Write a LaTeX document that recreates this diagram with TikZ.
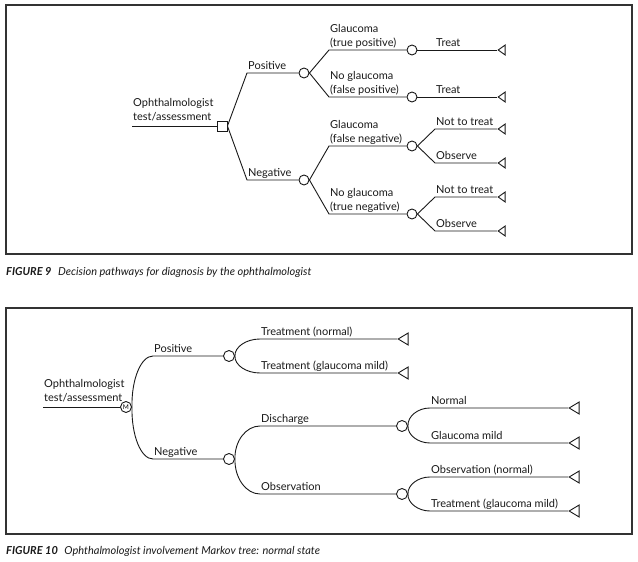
\documentclass[tikz,border=0pt]{standalone}
\usepackage{fontspec}
\setmainfont{Lato}
\usetikzlibrary{shapes.geometric}

\begin{document}
\begin{tikzpicture}[x=1pt, y=-1pt,
        linha/.style={draw=black!90, line width=0.9pt},
        moldura/.style={draw=black!80, line width=1.1pt},
        decisao/.style={draw=black!90, line width=0.9pt, rectangle, minimum size=10pt, inner sep=0pt, fill=white},
        acaso/.style={draw=black!90, line width=0.9pt, circle, minimum size=10pt, inner sep=0pt, fill=white},
        markov/.style={acaso, minimum size=11pt, font=\fontsize{6.5}{7}\selectfont},
        fim/.style={draw=black!90, line width=0.9pt, isosceles triangle, shape border rotate=180, isosceles triangle stretches, minimum width=10pt, minimum height=7pt, inner sep=0pt, anchor=apex},
        fimb/.style={fim, minimum width=12pt, minimum height=10pt},
        rotulo/.style={anchor=south west, align=left, inner xsep=1pt, inner ysep=3pt, text depth=0pt, text=black!90, font=\fontsize{11}{14}\selectfont},
        legenda/.style={anchor=base west, inner sep=0pt, text=black!90, font=\fontsize{11}{13}\selectfont\itshape}]
        \useasboundingbox (0,0) rectangle (638,562);

        % Molduras
        \draw[moldura] (6,5) rectangle (632,254);
        \draw[moldura] (6,308) rectangle (632,534);

        % Figura 9: nos
        \coordinate (r1) at (132,126);
        \node[decisao] (D1) at (222,126) {};
        \node[acaso] (c1) at (304,73) {};
        \node[acaso] (c2) at (304,180) {};
        \node[acaso] (c3) at (412,50) {};
        \node[acaso] (c4) at (412,97) {};
        \node[acaso] (c5) at (412,146) {};
        \node[acaso] (c6) at (412,214) {};
        \node[fim] (t1) at (497,50) {};
        \node[fim] (t2) at (497,97) {};
        \node[fim] (t3) at (497,129) {};
        \node[fim] (t4) at (497,163) {};
        \node[fim] (t5) at (497,197) {};
        \node[fim] (t6) at (497,231) {};

        % Figura 9: cantos dos ramos
        \coordinate (p1) at (247,73);
        \coordinate (p2) at (247,180);
        \coordinate (p3) at (329,50);
        \coordinate (p4) at (329,97);
        \coordinate (p5) at (329,146);
        \coordinate (p6) at (329,214);
        \coordinate (p7) at (435,129);
        \coordinate (p8) at (435,163);
        \coordinate (p9) at (435,197);
        \coordinate (p10) at (435,231);

        % Figura 9: ramos
        \draw[linha] (r1) -- (D1.west);
        \draw[linha] (D1.east) -- (p1) -- (c1.west);
        \draw[linha] (D1.east) -- (p2) -- (c2.west);
        \draw[linha] (c1.east) -- (p3) -- (c3.west);
        \draw[linha] (c1.east) -- (p4) -- (c4.west);
        \draw[linha] (c2.east) -- (p5) -- (c5.west);
        \draw[linha] (c2.east) -- (p6) -- (c6.west);
        \draw[linha] (c3.east) -- (t1.apex);
        \draw[linha] (c4.east) -- (t2.apex);
        \draw[linha] (c5.east) -- (p7) -- (t3.apex);
        \draw[linha] (c5.east) -- (p8) -- (t4.apex);
        \draw[linha] (c6.east) -- (p9) -- (t5.apex);
        \draw[linha] (c6.east) -- (p10) -- (t6.apex);

        % Figura 9: rotulos
        \node[rotulo, yshift=2pt] (l1) at (r1) {Ophthalmologist\\test/assessment};
        \node[rotulo] (l2) at (p1) {Positive};
        \node[rotulo] (l3) at (p2) {Negative};
        \node[rotulo] (l4) at (p3) {Glaucoma\\(true positive)};
        \node[rotulo] (l5) at (p4) {No glaucoma\\(false positive)};
        \node[rotulo] (l6) at (p5) {Glaucoma\\(false negative)};
        \node[rotulo] (l7) at (p6) {No glaucoma\\(true negative)};
        \node[rotulo] (l8) at (435,50) {Treat};
        \node[rotulo] (l9) at (435,97) {Treat};
        \node[rotulo] (l10) at (p7) {Not to treat};
        \node[rotulo] (l11) at (p8) {Observe};
        \node[rotulo] (l12) at (p9) {Not to treat};
        \node[rotulo] (l13) at (p10) {Observe};

        \node[legenda] (cap9) at (6,275) {\textbf{FIGURE 9}\hspace{0.6em}Decision pathways for diagnosis by the ophthalmologist};

        % Figura 10: nos
        \coordinate (r2) at (43,407);
        \node[markov] (M) at (126,407) {M};
        \node[acaso, minimum size=11pt] (c7) at (229,356) {};
        \node[acaso, minimum size=11pt] (c8) at (229,459) {};
        \node[acaso, minimum size=11pt] (c9) at (402,426) {};
        \node[acaso, minimum size=11pt] (c10) at (402,494) {};
        \node[fimb] (t7) at (397,339) {};
        \node[fimb] (t8) at (397,373) {};
        \node[fimb] (t9) at (568,408) {};
        \node[fimb] (t10) at (568,443) {};
        \node[fimb] (t11) at (568,477) {};
        \node[fimb] (t12) at (568,511) {};

        % Figura 10: cantos dos ramos
        \coordinate (q1) at (153,356);
        \coordinate (q2) at (153,459);
        \coordinate (q3) at (260,339);
        \coordinate (q4) at (260,373);
        \coordinate (q5) at (260,426);
        \coordinate (q6) at (260,494);
        \coordinate (q7) at (430,408);
        \coordinate (q8) at (430,443);
        \coordinate (q9) at (430,477);
        \coordinate (q10) at (430,511);

        % Figura 10: ramos curvos
        \draw[linha] (r2) -- (M.west);
        \draw[linha] (M.east) .. controls (131.5,379) and (141,356) .. (q1) -- (c7.west);
        \draw[linha] (M.east) .. controls (131.5,436) and (141,459) .. (q2) -- (c8.west);
        \draw[linha] (c7.east) .. controls (234.5,347) and (246,339) .. (q3) -- (t7.apex);
        \draw[linha] (c7.east) .. controls (234.5,365) and (246,373) .. (q4) -- (t8.apex);
        \draw[linha] (c8.east) .. controls (234.5,441) and (246,426) .. (q5) -- (c9.west);
        \draw[linha] (c8.east) .. controls (234.5,478) and (246,494) .. (q6) -- (c10.west);
        \draw[linha] (c9.east) .. controls (407.5,416) and (418,408) .. (q7) -- (t9.apex);
        \draw[linha] (c9.east) .. controls (407.5,435) and (418,443) .. (q8) -- (t10.apex);
        \draw[linha] (c10.east) .. controls (407.5,485) and (418,477) .. (q9) -- (t11.apex);
        \draw[linha] (c10.east) .. controls (407.5,503) and (418,511) .. (q10) -- (t12.apex);

        % Figura 10: rotulos
        \node[rotulo, yshift=2pt] (m1) at (r2) {Ophthalmologist\\test/assessment};
        \node[rotulo] (m2) at (q1) {Positive};
        \node[rotulo] (m3) at (q2) {Negative};
        \node[rotulo] (m4) at (q3) {Treatment (normal)};
        \node[rotulo] (m5) at (q4) {Treatment (glaucoma mild)};
        \node[rotulo] (m6) at (q5) {Discharge};
        \node[rotulo] (m7) at (q6) {Observation};
        \node[rotulo] (m8) at (q7) {Normal};
        \node[rotulo] (m9) at (q8) {Glaucoma mild};
        \node[rotulo] (m10) at (q9) {Observation (normal)};
        \node[rotulo] (m11) at (q10) {Treatment (glaucoma mild)};

        \node[legenda] (cap10) at (6,554) {\textbf{FIGURE 10}\hspace{0.6em}Ophthalmologist involvement Markov tree: normal state};
      \end{tikzpicture}
\end{document}
